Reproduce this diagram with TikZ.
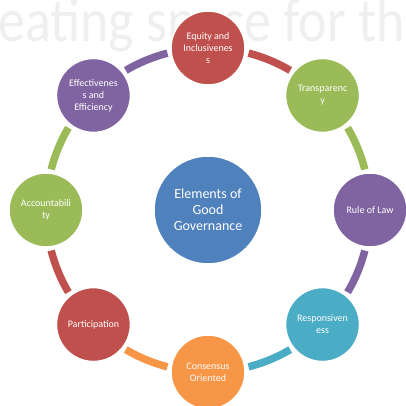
\documentclass[tikz,border=0pt]{standalone}
\usepackage{fontspec}
\setmainfont{Carlito}

\definecolor{govRed}{HTML}{C0504D}
\definecolor{govGreen}{HTML}{9BBB59}
\definecolor{govPurple}{HTML}{8064A2}
\definecolor{govTeal}{HTML}{4BACC6}
\definecolor{govOrange}{HTML}{F79646}
\definecolor{govBlue}{HTML}{4F81BD}
\definecolor{bannerGray}{HTML}{EFEFEF}

\tikzset{
  element/.style={circle,fill=#1,draw=white,line width=1.5pt,
    minimum size=74pt,inner sep=0pt,text=white,align=center,
    font=\fontsize{10}{12}\selectfont},
  hubnode/.style={circle,fill=govBlue,draw=white,line width=1.5pt,
    minimum size=108pt,inner sep=0pt,text=white,align=center,
    font=\fontsize{14}{16}\selectfont},
  link/.style={draw=#1,line width=7.5pt}
}

\begin{document}
\begin{tikzpicture}
\useasboundingbox (-208pt,-196pt) rectangle (198pt,210pt);
\clip (-208pt,-196pt) rectangle (198pt,210pt);

% faded banner behind the cycle
\node[anchor=base west,inner sep=0pt,text=bannerGray,
      font=\fontsize{62}{62}\selectfont] (banner) at (-210pt,168pt)
      {\scalebox{0.87}[1]{eating space for th}};

\node[hubnode] (hub) at (0,0) {Elements of\\Good\\Governance};

\begin{scope}
\node[element=govRed] (equity) at (90:162pt) {Equity and\\Inclusivenes\\s};
\node[element=govGreen] (transp) at (45:162pt) {Transparenc\\y};
\node[element=govPurple] (law) at (0:162pt) {Rule of Law};
\node[element=govTeal] (respons) at (-45:162pt) {Responsiven\\ess};
\node[element=govOrange] (consensus) at (-90:162pt) {Consensus\\Oriented};
\node[element=govRed] (particip) at (-135:162pt) {Participation};
\node[element=govGreen] (account) at (180:162pt) {Accountabili\\ty};
\node[element=govPurple] (effect) at (135:162pt) {Effectivenes\\s and\\Efficiency};
\end{scope}

% ring segments, each leaving its circle clockwise
\draw[link=govRed] (equity.center) ++(-7.25:40.9pt) arc[start angle=75.5,delta angle=-16,radius=162pt];
\draw[link=govGreen] (transp.center) ++(-52.25:40.9pt) arc[start angle=30.5,delta angle=-16,radius=162pt];
\draw[link=govPurple] (law.center) ++(-97.25:40.9pt) arc[start angle=-14.5,delta angle=-16,radius=162pt];
\draw[link=govTeal] (respons.center) ++(-142.25:40.9pt) arc[start angle=-59.5,delta angle=-16,radius=162pt];
\draw[link=govOrange] (consensus.center) ++(-187.25:40.9pt) arc[start angle=-104.5,delta angle=-16,radius=162pt];
\draw[link=govRed] (particip.center) ++(-232.25:40.9pt) arc[start angle=-149.5,delta angle=-16,radius=162pt];
\draw[link=govGreen] (account.center) ++(82.75:40.9pt) arc[start angle=165.5,delta angle=-16,radius=162pt];
\draw[link=govPurple] (effect.center) ++(37.75:40.9pt) arc[start angle=120.5,delta angle=-16,radius=162pt];
\end{tikzpicture}
\end{document}
